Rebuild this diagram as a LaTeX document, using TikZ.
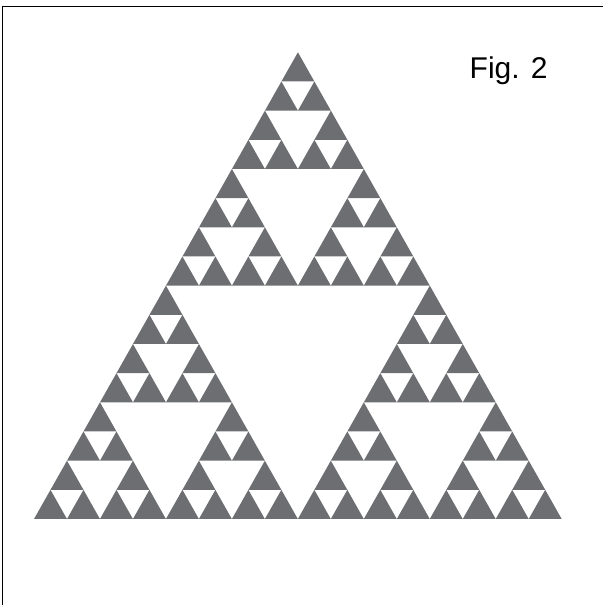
\documentclass[tikz,border=0pt]{standalone}
\usepackage{fontspec}
\setmainfont{Liberation Sans}
\definecolor{sierpgray}{RGB}{109,110,114}
\tikzset{
  frameline/.style={line width=1.3pt},
  piece/.style={fill=sierpgray},
  figlabel/.style={font=\fontsize{30}{36}\selectfont,inner sep=0pt,anchor=base west}
}
\begin{document}
\begin{tikzpicture}[x=1pt,y=1pt]
\useasboundingbox (0,0) rectangle (603,605);
% frame, cut at right and bottom
\coordinate (fbl) at (2.7,0);
\coordinate (ftl) at (2.7,598.3);
\coordinate (ftr) at (603,598.3);
\draw[frameline] (fbl) -- (ftl) -- (ftr);
\node[figlabel] (fig) at (469.5,526.7) {Fig. 2};
% gasket, four levels: 81 small triangles
\begin{scope}[shift={(34,86)},x={(527.7pt,0pt)},y={(263.9pt,466.7pt)}]
\foreach \a in {0,1,2}
 \foreach \b in {0,1,2}
  \foreach \c in {0,1,2}
   \foreach \d in {0,1,2}{
    \pgfmathsetmacro\u{(\a==1)/2+(\b==1)/4+(\c==1)/8+(\d==1)/16}
    \pgfmathsetmacro\v{(\a==2)/2+(\b==2)/4+(\c==2)/8+(\d==2)/16}
    \fill[piece] (\u,\v) -- ++(0.0625,0) -- ++(-0.0625,0.0625) -- cycle;
   }
\end{scope}
\end{tikzpicture}
\end{document}
